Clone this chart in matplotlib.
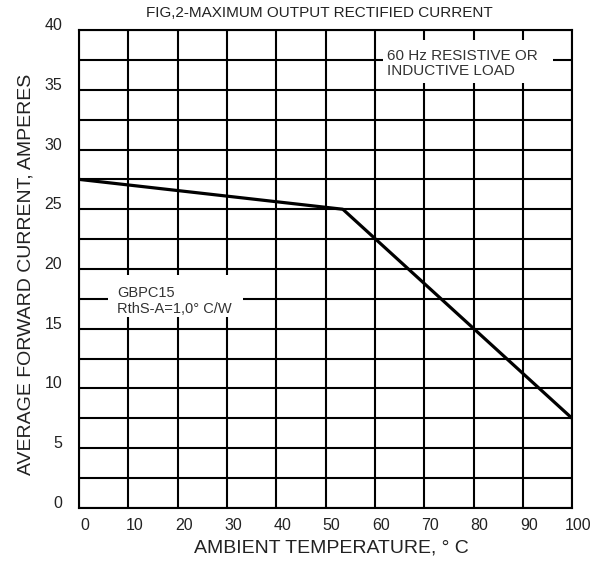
import numpy as np
from matplotlib import pyplot as plt
from matplotlib import transforms
from matplotlib.patches import Rectangle

''' --------------------------- 数据 ----------------------------------'''
temp_c = [0, 53.5, 100]          # ambient temperature, deg C
current_a = [27.5, 25.0, 7.5]    # average forward current, A
x_ticks = [0, 10, 20, 30, 40, 50, 60, 70, 80, 90, 100]
y_ticks = [0, 5, 10, 15, 20, 25, 30, 35, 40]

title = 'FIG,2-MAXIMUM OUTPUT RECTIFIED CURRENT'
note_load = '60 Hz RESISTIVE OR\nINDUCTIVE LOAD'
note_part = 'GBPC15\nRthS-A=1,0° C/W'

plt.rcParams['font.family'] = ['Liberation Sans', 'DejaVu Sans']

''' --------------------------- 绘图 ----------------------------------'''
fig = plt.figure(figsize=(6.08, 5.62), dpi=100)
ax = fig.add_axes([0.130, 0.0961, 0.811, 0.8505])

ax.set_xlim(0, 100)
ax.set_ylim(0, 40)
ax.set_xticks(x_ticks)
ax.set_yticks(y_ticks)
ax.set_yticks(np.arange(0, 40.1, 2.5), minor=True)
ax.grid(True, which='both', color='black', linewidth=1.5)
ax.tick_params(which='both', length=0, labelsize=11.5, labelcolor='#222222')
ax.tick_params(axis='x', pad=7)
ax.tick_params(axis='y', pad=12)
for sp in ax.spines.values():
    sp.set_linewidth(1.5)

# tick labels are a bit off the grid in the original sheet
dx = transforms.ScaledTranslation(6 / 100, 0, fig.dpi_scale_trans)
dy = transforms.ScaledTranslation(0, 6 / 100, fig.dpi_scale_trans)
for lab in ax.get_xticklabels():
    lab.set_transform(lab.get_transform() + dx)
for lab in ax.get_yticklabels():
    lab.set_transform(lab.get_transform() + dy)

ax.plot(temp_c, current_a, color='black', linewidth=2.3, zorder=5)

# white boxes for the notes (they cut the grid)
ax.add_patch(Rectangle((0.617, 0.889), 0.344, 0.090, transform=ax.transAxes,
                       facecolor='white', edgecolor='none', zorder=3))
ax.add_patch(Rectangle((0.059, 0.400), 0.274, 0.088, transform=ax.transAxes,
                       facecolor='white', edgecolor='none', zorder=3))
ax.text(0.625, 0.930, note_load, transform=ax.transAxes, fontsize=11,
        color='#333333', va='center', ha='left', linespacing=1.15, zorder=4)
ax.text(0.077, 0.433, note_part, transform=ax.transAxes, fontsize=10.5,
        color='#333333', va='center', ha='left', linespacing=1.15, zorder=4)

fig.text(0.526, 0.977, title, fontsize=11, color='#222222', ha='center', va='center')
fig.text(0.545, 0.025, 'AMBIENT TEMPERATURE, ° C', fontsize=14, color='#222222',
         ha='center', va='center')
fig.text(0.042, 0.511, 'AVERAGE FORWARD CURRENT, AMPERES', fontsize=14,
         color='#222222', ha='center', va='center', rotation=90)

plt.savefig('out.png', dpi=100)
